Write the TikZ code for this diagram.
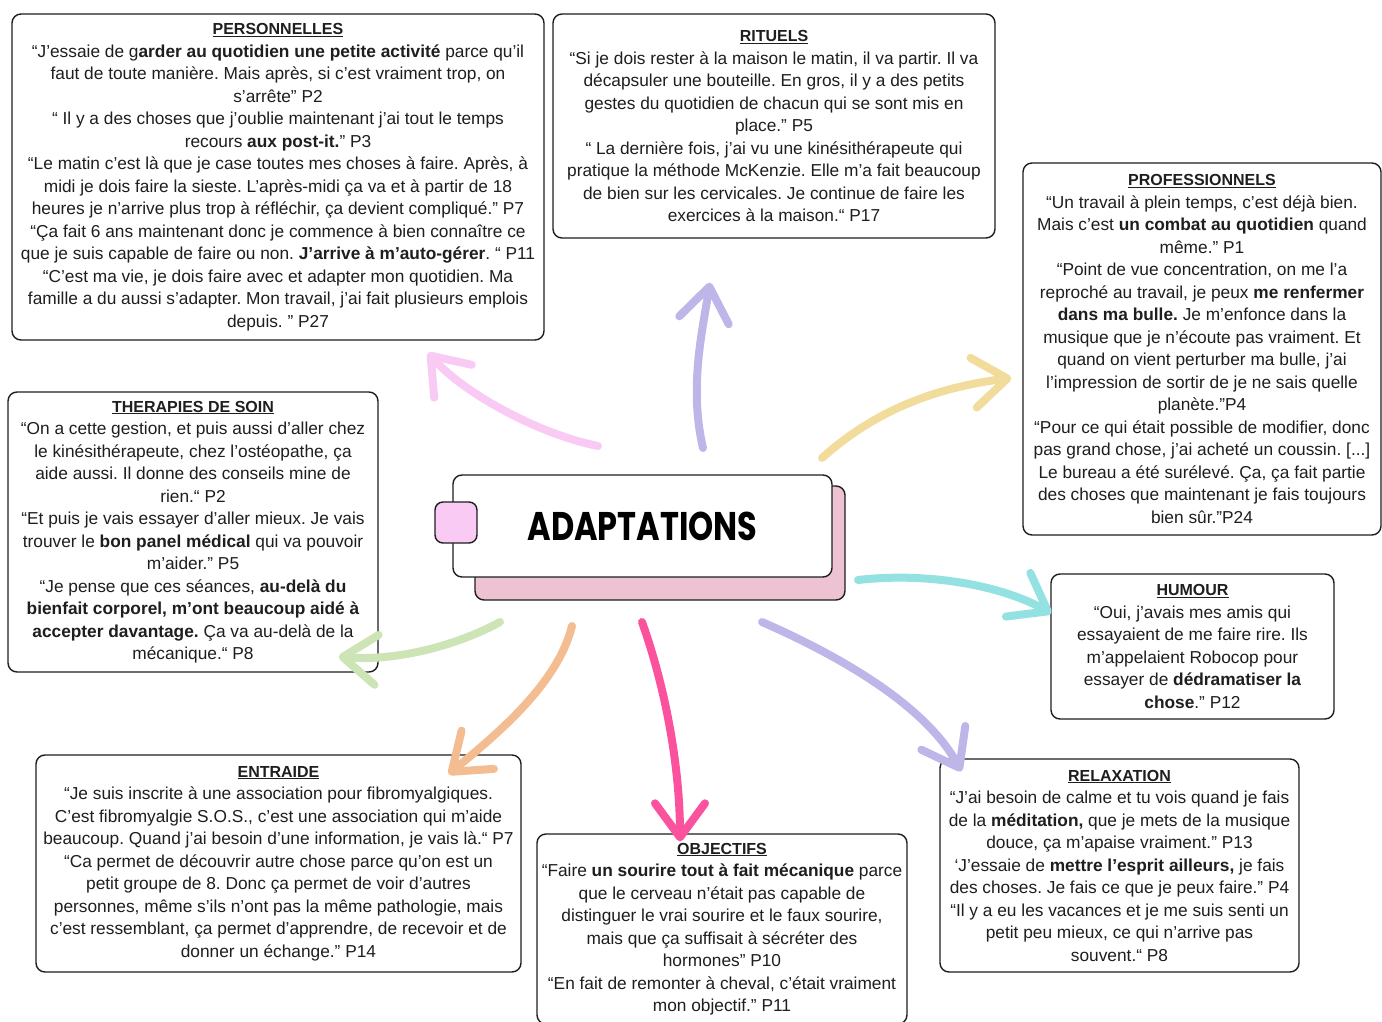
\documentclass[tikz,border=0pt]{standalone}
\usepackage{fontspec}
\setmainfont{Liberation Sans}
\newfontfamily\markerfont{Poppins}
\usepackage{graphicx}
\usetikzlibrary{arrows.meta, calc}
\frenchspacing

\definecolor{pinkA}{HTML}{F8CAF4}
\definecolor{lilac}{HTML}{BEB6E8}
\definecolor{sand}{HTML}{F1DC9B}
\definecolor{sage}{HTML}{CDE5B6}
\definecolor{aqua}{HTML}{93E1E1}
\definecolor{peach}{HTML}{F3BD91}
\definecolor{hotpink}{HTML}{FB529E}
\definecolor{shadowpink}{HTML}{EDC2D3}
\definecolor{inkgray}{HTML}{1E1E1E}

\tikzset{
  quote/.style={draw=inkgray, line width=1.4pt, rounded corners=9pt, fill=white,
    align=center, inner sep=2pt, text=inkgray, font=\fontsize{17.3}{22.5}\selectfont},
  brush/.style={line width=8pt, line cap=round,
    -{Straight Barb[length=34pt, width=50pt, round]}},
}
\newcommand\titre[1]{{\fontsize{16}{22.5}\selectfont\underline{\textbf{#1}}}}

\begin{document}
\begin{tikzpicture}[x=1pt, y=-1pt]
\useasboundingbox (0,0) rectangle (1382,1022);

\node[quote, minimum width=532pt, minimum height=326pt] (perso) at (278,177) {\titre{PERSONNELLES}\\
“J'essaie de g\textbf{arder au quotidien une petite activité} parce qu’il\\
faut de toute manière. Mais après, si c'est vraiment trop, on\\
s'arrête” P2\\
“ Il y a des choses que j’oublie maintenant j’ai tout le temps\\
recours \textbf{aux post-it.}” P3\\
“Le matin c’est là que je case toutes mes choses à faire. Après, à\\
midi je dois faire la sieste. L’après-midi ça va et à partir de 18\\
heures je n’arrive plus trop à réfléchir, ça devient compliqué.” P7\\
“Ça fait 6 ans maintenant donc je commence à bien connaître ce\\
que je suis capable de faire ou non. \textbf{J’arrive à m’auto-gérer}. “ P11\\
“C'est ma vie, je dois faire avec et adapter mon quotidien. Ma\\
famille a du aussi s'adapter. Mon travail, j'ai fait plusieurs emplois\\
depuis. ” P27};

\node[quote, minimum width=442pt, minimum height=224pt] (rituels) at (774,126) {\titre{RITUELS}\\
“Si je dois rester à la maison le matin, il va partir. Il va\\
décapsuler une bouteille. En gros, il y a des petits\\
gestes du quotidien de chacun qui se sont mis en\\
place.” P5\\
“ La dernière fois, j'ai vu une kinésithérapeute qui\\
pratique la méthode McKenzie. Elle m'a fait beaucoup\\
de bien sur les cervicales. Je continue de faire les\\
exercices à la maison.“ P17};

\node[quote, minimum width=358pt, minimum height=372pt] (pro) at (1202,349) {\titre{PROFESSIONNELS}\\
“Un travail à plein temps, c'est déjà bien.\\
Mais c'est \textbf{un combat au quotidien} quand\\
même.” P1\\
“Point de vue concentration, on me l’a\\
reproché au travail, je peux \textbf{me renfermer}\\
\textbf{dans ma bulle.} Je m’enfonce dans la\\
musique que je n’écoute pas vraiment. Et\\
quand on vient perturber ma bulle, j’ai\\
l’impression de sortir de je ne sais quelle\\
planète.”P4\\
“Pour ce qui était possible de modifier, donc\\
pas grand chose, j’ai acheté un coussin. [...]\\
Le bureau a été surélevé. Ça, ça fait partie\\
des choses que maintenant je fais toujours\\
bien sûr.”P24};

\node[quote, minimum width=370pt, minimum height=280pt] (therapies) at (193,532) {\titre{THERAPIES DE SOIN}\\
“On a cette gestion, et puis aussi d'aller chez\\
le kinésithérapeute, chez l'ostéopathe, ça\\
aide aussi. Il donne des conseils mine de\\
rien.“ P2\\
“Et puis je vais essayer d'aller mieux. Je vais\\
trouver le \textbf{bon panel médical} qui va pouvoir\\
m'aider.” P5\\
“Je pense que ces séances, \textbf{au-delà du}\\
\textbf{bienfait corporel, m'ont beaucoup aidé à}\\
\textbf{accepter davantage.} Ça va au-delà de la\\
mécanique.“ P8};

\node[quote, minimum width=283pt, minimum height=145pt] (humour) at (1192.5,646.5) {\titre{HUMOUR}\\
“Oui, j'avais mes amis qui\\
essayaient de me faire rire. Ils\\
m'appelaient Robocop pour\\
essayer de \textbf{dédramatiser la}\\
\textbf{chose}.” P12};

\node[quote, minimum width=485pt, minimum height=217pt] (entraide) at (278.5,863.5) {\titre{ENTRAIDE}\\
“Je suis inscrite à une association pour fibromyalgiques.\\
C’est fibromyalgie S.O.S., c’est une association qui m’aide\\
beaucoup. Quand j’ai besoin d’une information, je vais là.“ P7\\
“Ca permet de découvrir autre chose parce qu'on est un\\
petit groupe de 8. Donc ça permet de voir d'autres\\
personnes, même s'ils n'ont pas la même pathologie, mais\\
c'est ressemblant, ça permet d'apprendre, de recevoir et de\\
donner un échange.” P14};

\node[quote, minimum width=370pt, minimum height=190pt] (objectifs) at (722,929) {\titre{OBJECTIFS}\\
“Faire \textbf{un sourire tout à fait mécanique} parce\\
que le cerveau n'était pas capable de\\
distinguer le vrai sourire et le faux sourire,\\
mais que ça suffisait à sécréter des\\
hormones” P10\\
“En fait de remonter à cheval, c'était vraiment\\
mon objectif.” P11};

\node[quote, minimum width=359pt, minimum height=213pt] (relax) at (1119.5,865.5) {\titre{RELAXATION}\\
“J'ai besoin de calme et tu vois quand je fais\\
de la \textbf{méditation,} que je mets de la musique\\
douce, ça m'apaise vraiment.” P13\\
‘J’essaie de \textbf{mettre l’esprit ailleurs,} je fais\\
des choses. Je fais ce que je peux faire.” P4\\
“Il y a eu les vacances et je me suis senti un\\
petit peu mieux, ce qui n’arrive pas\\
souvent.“ P8};

%central title
\node[draw=inkgray, line width=1.4pt, rounded corners=9pt, fill=shadowpink,
  minimum width=370pt, minimum height=114pt] (shadow) at (660,543) {};
\node[draw=inkgray, line width=1.4pt, rounded corners=9pt, fill=white,
  minimum width=379pt, minimum height=102pt] (adapt) at (642.5,526)
  {\scalebox{0.8}[1]{\markerfont\fontsize{40}{40}\selectfont\bfseries ADAPTATIONS}};
\node[draw=inkgray, line width=1.4pt, rounded corners=8pt, fill=pinkA,
  minimum width=42pt, minimum height=41pt] (tab) at (456,522.5) {};

%arrows
\path (adapt.center) ++(-44.5,-80) coordinate (t1);
\path (perso.south) ++(150,12) coordinate (h1);
\draw[brush, pinkA] (t1) .. controls +(-60,-12) and +(35,40) .. (h1);

\path (adapt.center) ++(60.5,-78) coordinate (t2);
\path (rituels.south) ++(-64,44) coordinate (h2);
\draw[brush, lilac] (t2) .. controls +(-14,-60) and +(-8,50) .. (h2);

\path (adapt.center) ++(179.5,-68) coordinate (t3);
\path (pro.west) ++(-11,29) coordinate (h3);
\draw[brush, sand] (t3) .. controls +(50,-45) and +(-80,10) .. (h3);

\path (adapt.center) ++(-142.5,96) coordinate (t4);
\path (therapies.south east) ++(-40,-16) coordinate (h4);
\draw[brush, sage] (t4) .. controls +(-40,22) and +(60,5) .. (h4);

\path (adapt.center) ++(215.5,54) coordinate (t5);
\path (humour.north west) ++(1,40) coordinate (h5);
\draw[brush, aqua] (t5) .. controls +(70,-8) and +(-50,-28) .. (h5);

\path (adapt.center) ++(-70.5,100) coordinate (t6);
\path (entraide.north east) ++(-73,20) coordinate (h6);
\draw[brush, peach] (t6) .. controls +(-15,60) and +(45,-38) .. (h6);

\path (adapt.center) ++(-0.5,96) coordinate (t7);
\path (objectifs.north) ++(-42,8) coordinate (h7);
\draw[brush, hotpink] (t7) .. controls +(25,70) and +(0,-70) .. (h7);

\path (adapt.center) ++(119.5,96) coordinate (t8);
\path (relax.north west) ++(22,13) coordinate (h8);
\draw[brush, lilac] (t8) .. controls +(80,35) and +(-35,-65) .. (h8);

\end{tikzpicture}
\end{document}
